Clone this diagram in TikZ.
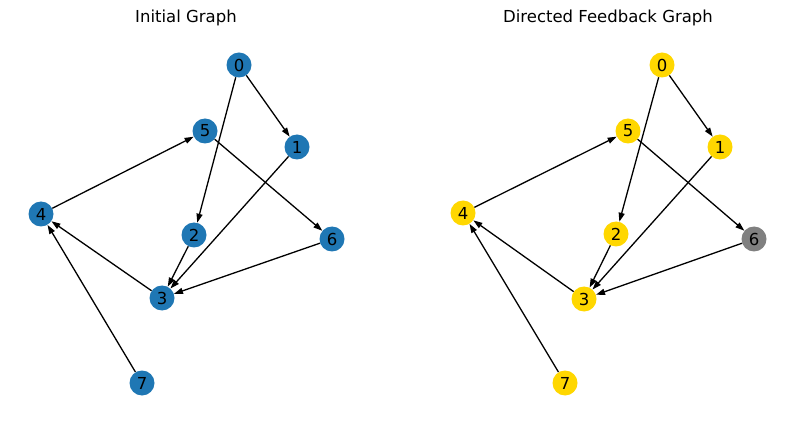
\documentclass[tikz,border=0pt]{standalone}
\usepackage{fontspec}
\setmainfont{DejaVu Sans}
\usetikzlibrary{arrows.meta}
\definecolor{mblue}{HTML}{1F77B4}
\definecolor{mgold}{HTML}{FFD700}
\definecolor{mgray}{HTML}{808080}
\begin{document}
\begin{tikzpicture}[x=1pt,y=-1pt,
  vtx/.style={circle,minimum size=25pt,inner sep=0pt,font=\fontsize{16.5}{18}\selectfont},
  bluev/.style={vtx,fill=mblue},
  goldv/.style={vtx,fill=mgold},
  grayv/.style={vtx,fill=mgray},
  edge/.style={-{Triangle[length=9pt,width=6pt]},line width=1.3pt,black},
  ttl/.style={font=\fontsize{16.5}{18}\selectfont}]
\useasboundingbox (0,0) rectangle (794,427);
\node[ttl] (t1) at (186,18) {Initial Graph};
\node[ttl] (t2) at (608,18) {Directed Feedback Graph};
% left graph
\node[bluev] (a0) at (239,65) {0};
\node[bluev] (a1) at (297,147) {1};
\node[bluev] (a2) at (194,235) {2};
\node[bluev] (a3) at (162,298) {3};
\node[bluev] (a4) at (41,214) {4};
\node[bluev] (a5) at (205,131) {5};
\node[bluev] (a6) at (332,239) {6};
\node[bluev] (a7) at (142,383) {7};
% right graph
\node[goldv] (b0) at (662,65) {0};
\node[goldv] (b1) at (720,147) {1};
\node[goldv] (b2) at (616,234) {2};
\node[goldv] (b3) at (584,299) {3};
\node[goldv] (b4) at (463,213) {4};
\node[goldv] (b5) at (628,131) {5};
\node[grayv] (b6) at (754,239) {6};
\node[goldv] (b7) at (565,383) {7};
\foreach \p in {a,b}{
  \draw[edge] (\p0) -- (\p1);
  \draw[edge] (\p0) -- (\p2);
  \draw[edge] (\p1) -- (\p3);
  \draw[edge] (\p2) -- (\p3);
  \draw[edge] (\p6) -- (\p3);
  \draw[edge] (\p3) -- (\p4);
  \draw[edge] (\p7) -- (\p4);
  \draw[edge] (\p4) -- (\p5);
  \draw[edge] (\p5) -- (\p6);
}
\end{tikzpicture}
\end{document}
